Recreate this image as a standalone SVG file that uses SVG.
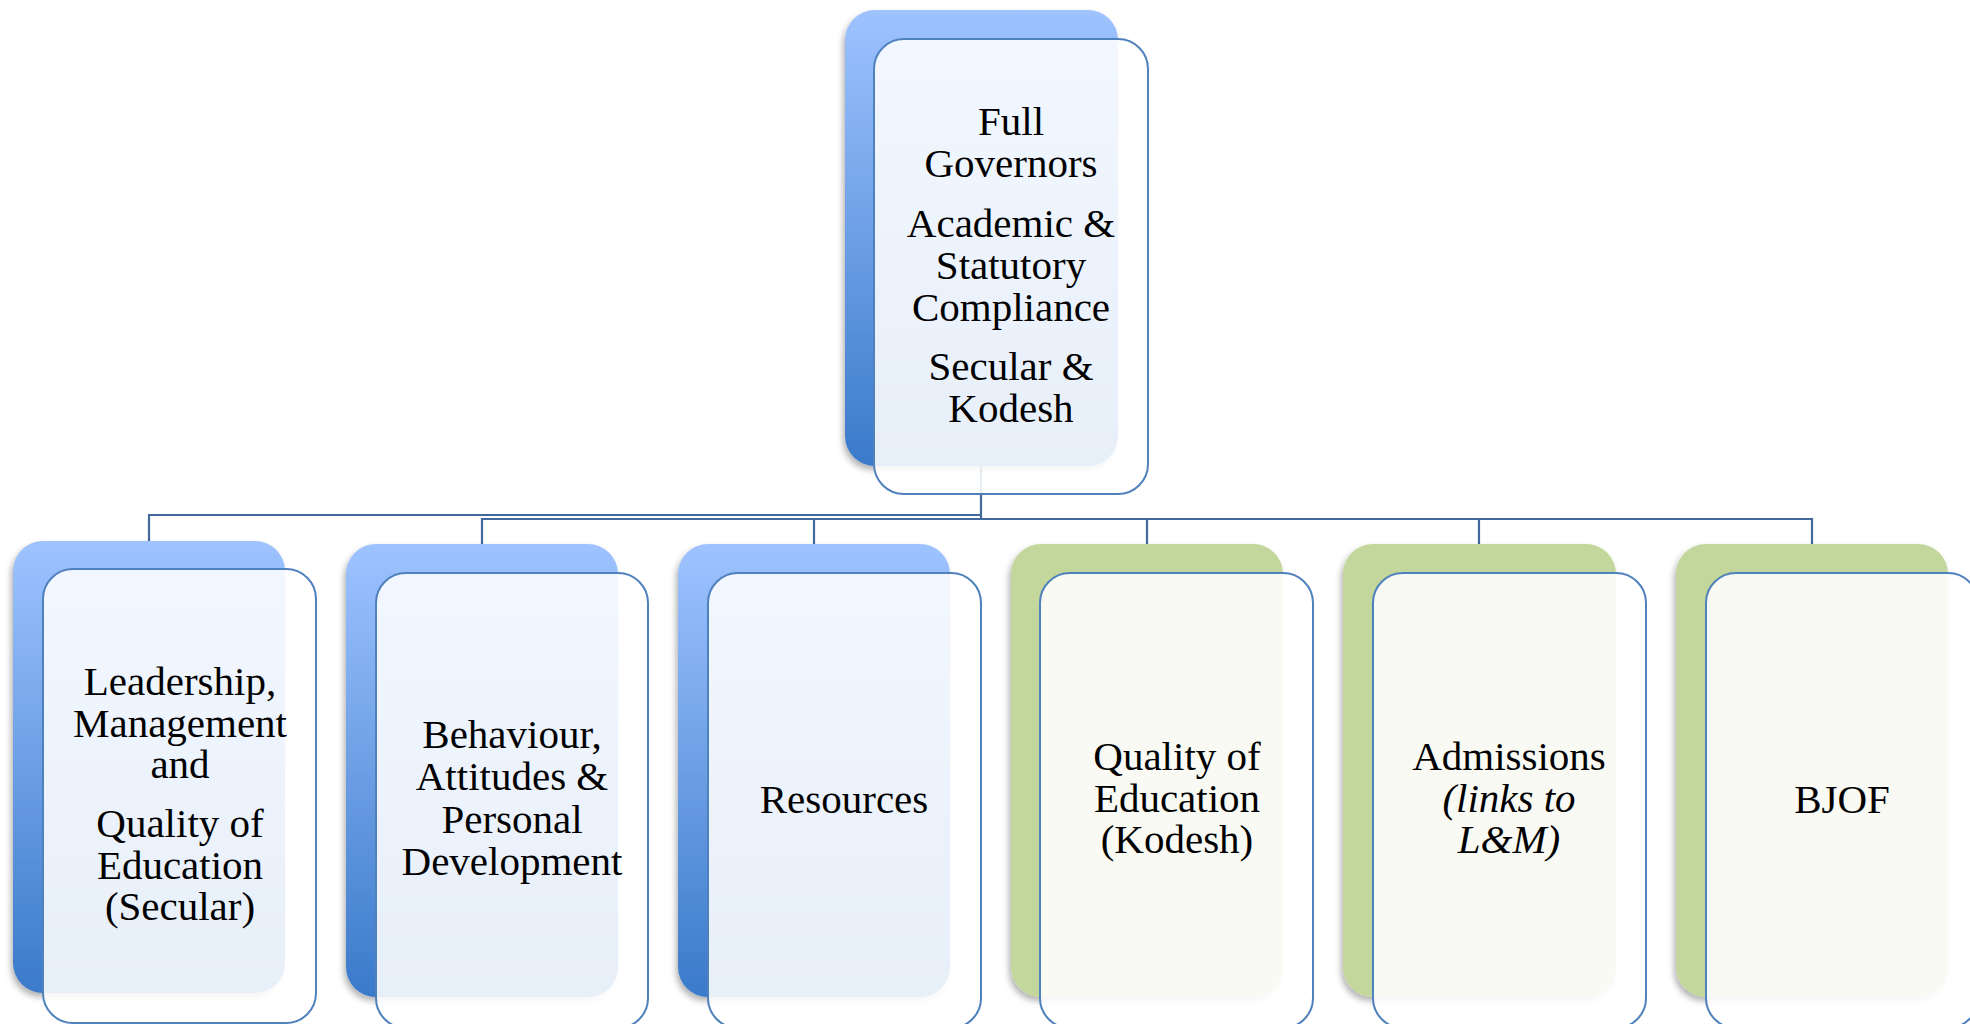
<svg xmlns="http://www.w3.org/2000/svg" width="1970" height="1024" viewBox="0 0 1970 1024">
  <defs>
    <linearGradient id="gBlue" x1="0" y1="0" x2="0" y2="1">
      <stop offset="0" stop-color="#9EC3FF"/>
      <stop offset="1" stop-color="#3A7ACA"/>
    </linearGradient>
    <filter id="shadow" x="-10%" y="-10%" width="120%" height="120%">
      <feDropShadow dx="-2" dy="4" stdDeviation="3" flood-color="#000" flood-opacity="0.3"/>
    </filter>
  </defs>
  <style>
    .backB { fill: url(#gBlue); filter: url(#shadow); }
    .backG { fill: #C3D69B; filter: url(#shadow); }
    .front { fill: #FFFFFF; fill-opacity: 0.88; stroke: #4F81BD; stroke-width: 2; }
    .conn { fill: none; stroke: #41699C; stroke-width: 2.2; }
    text { font-family: "Liberation Serif", "Times New Roman", serif; font-size: 41px; fill: #000; text-anchor: middle; }
    .it { font-style: italic; }
  </style>
  <rect width="1970" height="1024" fill="#FFFFFF"/>

  <g id="connectors">
    <path class="conn" d="M981 466 V519"/>
    <path class="conn" d="M981 515 H149 V541"/>
    <path class="conn" d="M482 544 V519 H1812 V544"/>
    <path class="conn" d="M814 519 V544"/>
    <path class="conn" d="M1147 519 V544"/>
    <path class="conn" d="M1479 519 V544"/>
  </g>

  <g id="node-full-governors">
    <rect class="backB" x="845" y="10" width="273" height="456" rx="30"/>
    <rect class="front" x="874" y="39" width="274" height="455" rx="30"/>
    <text x="1011" y="135">Full</text>
    <text x="1011" y="177">Governors</text>
    <text x="1011" y="237">Academic &amp;</text>
    <text x="1011" y="279">Statutory</text>
    <text x="1011" y="321">Compliance</text>
    <text x="1011" y="380">Secular &amp;</text>
    <text x="1011" y="422">Kodesh</text>
  </g>

  <g id="node-leadership">
    <rect class="backB" x="13" y="541" width="272" height="452" rx="30"/>
    <rect class="front" x="43" y="569" width="273" height="454" rx="30"/>
    <text x="180" y="695">Leadership,</text>
    <text x="180" y="737">Management</text>
    <text x="180" y="778">and</text>
    <text x="180" y="837">Quality of</text>
    <text x="180" y="879">Education</text>
    <text x="180" y="920">(Secular)</text>
  </g>

  <g id="node-behaviour">
    <rect class="backB" x="346" y="544" width="272" height="453" rx="30"/>
    <rect class="front" x="376" y="573" width="272" height="455" rx="30"/>
    <text x="512" y="748">Behaviour,</text>
    <text x="512" y="790">Attitudes &amp;</text>
    <text x="512" y="833">Personal</text>
    <text x="512" y="875">Development</text>
  </g>

  <g id="node-resources">
    <rect class="backB" x="678" y="544" width="272" height="453" rx="30"/>
    <rect class="front" x="708" y="573" width="273" height="455" rx="30"/>
    <text x="844" y="813">Resources</text>
  </g>

  <g id="node-quality-kodesh">
    <rect class="backG" x="1011" y="544" width="272" height="453" rx="30"/>
    <rect class="front" x="1040" y="573" width="273" height="455" rx="30"/>
    <text x="1177" y="770">Quality of</text>
    <text x="1177" y="812">Education</text>
    <text x="1177" y="853">(Kodesh)</text>
  </g>

  <g id="node-admissions">
    <rect class="backG" x="1343" y="544" width="273" height="453" rx="30"/>
    <rect class="front" x="1373" y="573" width="273" height="455" rx="30"/>
    <text x="1509" y="770">Admissions</text>
    <text class="it" x="1509" y="812">(links to</text>
    <text class="it" x="1509" y="853">L&amp;M)</text>
  </g>

  <g id="node-bjof">
    <rect class="backG" x="1676" y="544" width="272" height="453" rx="30"/>
    <rect class="front" x="1706" y="573" width="272" height="455" rx="30"/>
    <text x="1842" y="813">BJOF</text>
  </g>
</svg>
